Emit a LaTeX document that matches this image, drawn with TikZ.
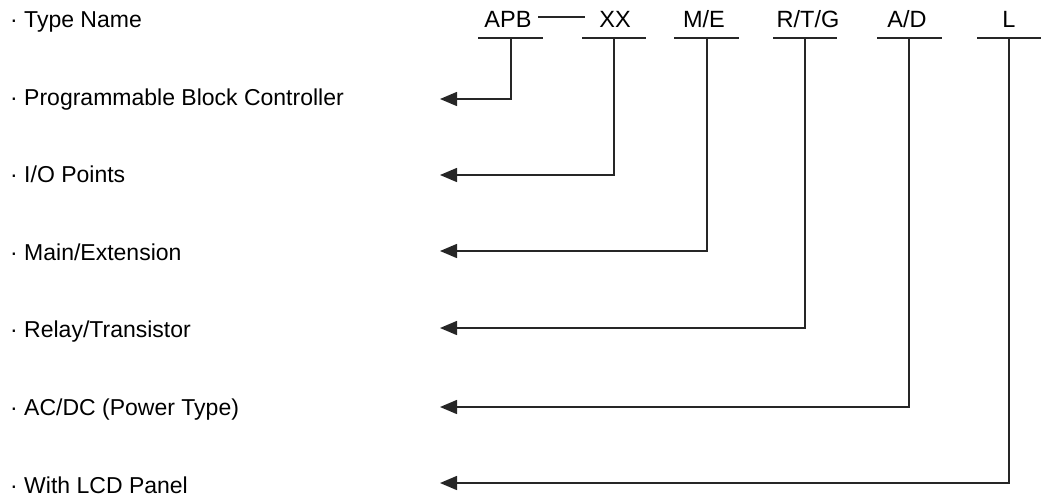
\documentclass[tikz,border=0pt]{standalone}
\usepackage{fontspec}
\setmainfont{Liberation Sans}
\usetikzlibrary{arrows.meta}
\begin{document}
\begin{tikzpicture}[x=1pt,y=-1pt,
  lbl/.style={anchor=base west,inner sep=0pt,font=\fontsize{23}{27}\selectfont},
  code/.style={anchor=base,inner sep=0pt,font=\fontsize{23.5}{27}\selectfont},
  uline/.style={line width=1.5pt,draw=black!85},
  conn/.style={line width=1.5pt,draw=black!85,-{Triangle[length=17pt,width=14pt]}}]
\useasboundingbox (0,0) rectangle (1041,496);
% left labels
\node[lbl] (t0) at (10,27) {· Type Name};
\node[lbl] (t1) at (10,105) {· Programmable Block Controller};
\node[lbl] (t2) at (10,182) {· I/O Points};
\node[lbl] (t3) at (10,260) {· Main/Extension};
\node[lbl] (t4) at (10,337) {· Relay/Transistor};
\node[lbl] (t5) at (10,415) {· AC/DC (Power Type)};
\node[lbl] (t6) at (10,493) {· With LCD Panel};
% codes
\node[code] (c1) at (508,27) {APB};
\coordinate (d1) at (538,17); \coordinate (d2) at (585,17);
\draw[line width=1.3pt,draw=black!85] (d1) -- (d2);
\node[code] (c2) at (615,27) {XX};
\node[code] (c3) at (704,27) {M/E};
\node[code] (c4) at (808,27) {R/T/G};
\node[code] (c5) at (907,27) {A/D};
\node[code] (c6) at (1009,27) {L};
% underlines
\coordinate (u1) at (511,38); \draw[uline] (478,38) -- (543,38);
\coordinate (u2) at (614,38); \draw[uline] (582,38) -- (646,38);
\coordinate (u3) at (707,38); \draw[uline] (674,38) -- (739,38);
\coordinate (u4) at (805,38); \draw[uline] (773,38) -- (837,38);
\coordinate (u5) at (909,38); \draw[uline] (877,38) -- (942,38);
\coordinate (u6) at (1009,38); \draw[uline] (977,38) -- (1041,38);
% arrow tips
\coordinate (a1) at (440,99);
\coordinate (a2) at (440,175);
\coordinate (a3) at (440,251);
\coordinate (a4) at (440,328);
\coordinate (a5) at (440,407);
\coordinate (a6) at (440,483);
\draw[conn] (u1) |- (a1);
\draw[conn] (u2) |- (a2);
\draw[conn] (u3) |- (a3);
\draw[conn] (u4) |- (a4);
\draw[conn] (u5) |- (a5);
\draw[conn] (u6) |- (a6);
\end{tikzpicture}
\end{document}
